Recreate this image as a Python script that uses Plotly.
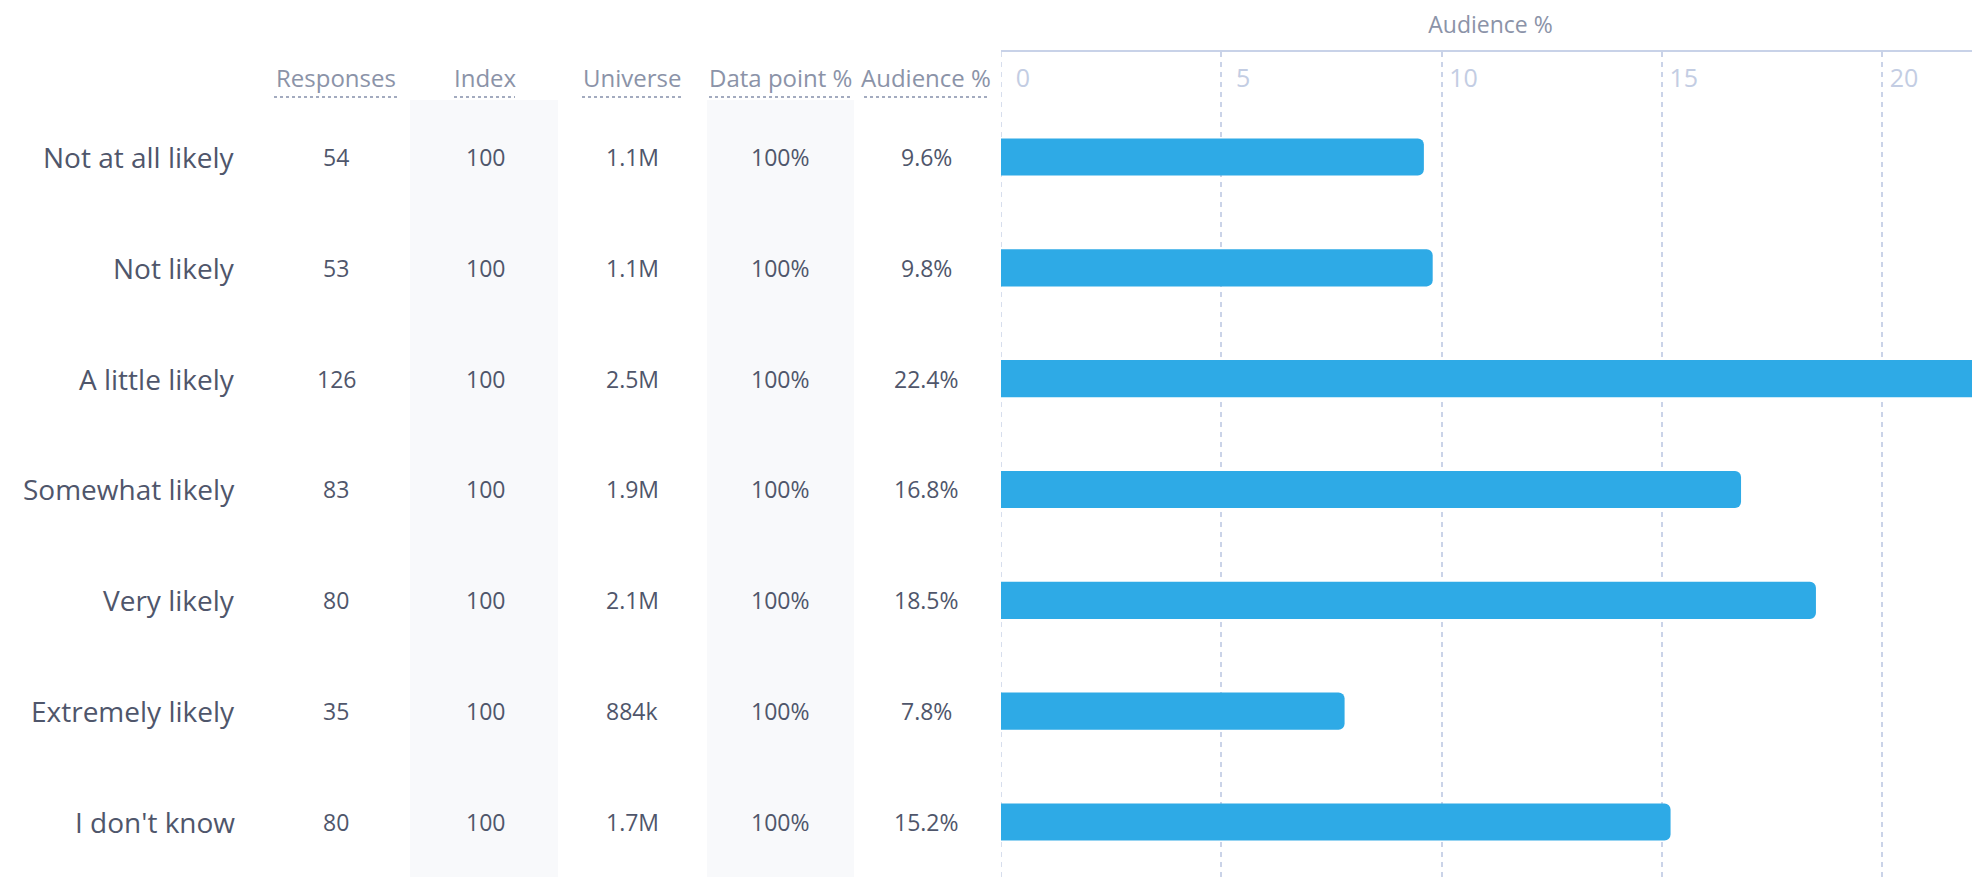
import plotly.graph_objects as go

categories = ["Not at all likely", "Not likely", "A little likely", "Somewhat likely",
              "Very likely", "Extremely likely", "I don't know"]
responses = [54, 53, 126, 83, 80, 35, 80]
index_vals = [100, 100, 100, 100, 100, 100, 100]
universe = ["1.1M", "1.1M", "2.5M", "1.9M", "2.1M", "884k", "1.7M"]
data_point_pct = [100, 100, 100, 100, 100, 100, 100]
audience_pct = [9.6, 9.8, 22.4, 16.8, 18.5, 7.8, 15.2]

column_headers = ["Responses", "Index", "Universe", "Data point %", "Audience %"]

# ---- layout constants (pixels, in page coordinates) ----
OFF = 8                      # page body margin
PAGE_W, PAGE_H = 1980, 877
W, H = PAGE_W - OFF, PAGE_H - OFF
PLOT_LEFT, PLOT_TOP = 1001, 52
ML, MT = PLOT_LEFT - OFF, PLOT_TOP - OFF
PW, PH = W - ML, H - MT


def px_x(px):
    return (px - PLOT_LEFT) / PW


def px_y(py):
    return (PAGE_H - py) / PH


LABEL_COLOR = "#4f566b"
HEAD_COLOR = "#8b93a8"
BAR_COLOR = "#2eaae6"
GRID_COLOR = "#cad3e8"
FONT = "Open Sans"

col_centers = [336, 485, 632, 780, 926]
col_spans = [(274, 399), (454, 515), (582, 681), (709, 850), (864, 989)]
shaded_cols = [(410, 558), (707, 854)]

fig = go.Figure()
fig.add_trace(go.Bar(
    x=audience_pct, y=categories, orientation="h",
    marker=dict(color=BAR_COLOR, line=dict(width=0), cornerradius=6),
    width=0.335, hoverinfo="skip", showlegend=False,
))

annotations = []
shapes = []

for x0, x1 in shaded_cols:
    shapes.append(dict(type="rect", xref="paper", yref="paper",
                       x0=px_x(x0), x1=px_x(x1), y0=px_y(PAGE_H + 5), y1=px_y(100),
                       fillcolor="#f8f9fb", line=dict(width=0), layer="below"))

# dashed gridline at x = 0 (plotly hides the edge gridline)
shapes.append(dict(type="line", xref="x", yref="paper", x0=0, x1=0, y0=0, y1=1,
                   line=dict(color=GRID_COLOR, width=1.5, dash="5px,5px"), layer="below"))

for name, cx, (sx0, sx1) in zip(column_headers, col_centers, col_spans):
    annotations.append(dict(text=name, xref="paper", yref="paper", x=px_x(cx), y=px_y(78),
                            xanchor="center", yanchor="middle", showarrow=False,
                            font=dict(family=FONT, size=24, color=HEAD_COLOR)))
    shapes.append(dict(type="line", xref="paper", yref="paper",
                       x0=px_x(sx0), x1=px_x(sx1), y0=px_y(97), y1=px_y(97),
                       line=dict(color="#a3abbf", width=2, dash="dot")))

columns = [
    [str(v) for v in responses],
    [str(v) for v in index_vals],
    universe,
    [f"{v}%" for v in data_point_pct],
    [f"{v}%" for v in audience_pct],
]

for i, cat in enumerate(categories):
    annotations.append(dict(text=cat, xref="paper", yref="y", x=px_x(237), y=cat,
                            xanchor="right", yanchor="middle", showarrow=False,
                            font=dict(family=FONT, size=28, color=LABEL_COLOR)))
    for col, cx in zip(columns, col_centers):
        annotations.append(dict(text=col[i], xref="paper", yref="y", x=px_x(cx), y=cat,
                                xanchor="center", yanchor="middle", showarrow=False,
                                font=dict(family=FONT, size=23, color=LABEL_COLOR)))

fig.update_layout(
    width=W, height=H,
    margin=dict(l=ML, r=0, t=MT, b=0, pad=0),
    paper_bgcolor="white", plot_bgcolor="white",
    font=dict(family=FONT),
    shapes=shapes,
    annotations=annotations,
    xaxis=dict(
        side="top", range=[0, PW / 44.05], tick0=0, dtick=5,
        showline=True, linecolor="#c8d2e8", linewidth=2,
        showgrid=True, gridcolor=GRID_COLOR, gridwidth=1.5, griddash="5px,5px",
        zeroline=False, ticks="",
        ticklabelposition="inside", ticklabelshift=22, ticklabelstandoff=19,
        tickfont=dict(family=FONT, size=25, color="#c3cde3"),
        title=dict(text="Audience %", font=dict(family=FONT, size=23, color=HEAD_COLOR), standoff=20),
        fixedrange=True,
    ),
    yaxis=dict(
        type="category", categoryorder="array", categoryarray=categories,
        range=[6.496, -0.947], showticklabels=False, showgrid=False,
        zeroline=False, showline=False, ticks="", fixedrange=True,
    ),
)

fig.write_html("out.html")
